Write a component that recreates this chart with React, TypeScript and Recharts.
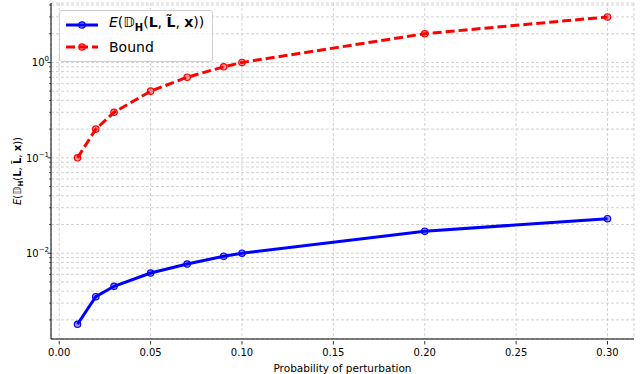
import { LineChart, Line, XAxis, YAxis, CartesianGrid } from 'recharts'

// probability of perturbation (x) and the two series
const probs = [0.01, 0.02, 0.03, 0.05, 0.07, 0.09, 0.1, 0.2, 0.3]
const expected = [0.0018, 0.0035, 0.0045, 0.0062, 0.0077, 0.0093, 0.01, 0.017, 0.023]
const bound = [0.1, 0.2, 0.3, 0.5, 0.7, 0.9, 1.0, 2.0, 3.0]

const xTicks = [0, 0.05, 0.1, 0.15, 0.2, 0.25, 0.3]
const yTicks = [
  0.002, 0.003, 0.004, 0.005, 0.006, 0.007, 0.008, 0.009,
  0.01, 0.02, 0.03, 0.04, 0.05, 0.06, 0.07, 0.08, 0.09,
  0.1, 0.2, 0.3, 0.4, 0.5, 0.6, 0.7, 0.8, 0.9,
  1, 2, 3, 4,
]

const data = probs.map((p, i) => ({ p, expected: expected[i], bound: bound[i] }))

const FONT = 'DejaVu Sans, sans-serif'
const Y_AXIS_W = 51 // left axis sits at this x

function YTick({ y, payload }: any) {
  const v = payload.value
  const exp = Math.log10(v)
  const major = Math.abs(exp - Math.round(exp)) < 1e-6
  const ax = Y_AXIS_W
  return (
    <g>
      <line x1={ax} x2={ax - (major ? 3.5 : 2)} y1={y} y2={y} stroke="#000" strokeWidth={major ? 0.8 : 0.6} />
      {major && (
        <text x={ax - 2} y={y + 4} textAnchor="end" fontSize={10} fontFamily={FONT} fill="#000">
          <tspan>10</tspan>
          <tspan dy={-5} fontSize={7}>{Math.round(exp) < 0 ? '\u2212' + Math.abs(Math.round(exp)) : '0'}</tspan>
        </text>
      )}
    </g>
  )
}

function XTick({ x, y, payload }: any) {
  return (
    <g>
      <line x1={x} x2={x} y1={y} y2={y + 3.5} stroke="#000" strokeWidth={0.8} />
      <text x={x} y={y + 15} textAnchor="middle" fontSize={10} fontFamily={FONT} fill="#000">
        {payload.value.toFixed(2)}
      </text>
    </g>
  )
}

function LegendBox() {
  const row = (color: string, dash: string | undefined, label: any) => (
    <div style={{ display: 'flex', alignItems: 'center', height: 22 }}>
      <svg width={34} height={10} style={{ marginRight: 10 }}>
        <line x1={1} x2={33} y1={5} y2={5} stroke={color} strokeWidth={3} strokeDasharray={dash} />
        <circle cx={17} cy={5} r={3.2} fill={color} fillOpacity={0.4} stroke={color} strokeWidth={1.2} />
      </svg>
      <span>{label}</span>
    </div>
  )
  return (
    <div
      style={{
        position: 'absolute',
        left: 59,
        top: 10,
        border: '1px solid #d0d0d0',
        borderRadius: 3,
        background: 'rgba(255,255,255,0.8)',
        padding: '3px 8px 3px 5px',
        fontFamily: FONT,
        fontSize: 14,
        color: '#000',
        lineHeight: '16px',
      }}
    >
      {row('#0000ff', undefined, (
        <>
          <i>E</i>(𝔻<sub style={{ fontSize: 10, fontWeight: 'bold' }}>H</sub>(<b>L</b>, <b>L̃</b>, <b>x</b>))
        </>
      ))}
      {row('#ff0000', '9 4', 'Bound')}
    </div>
  )
}

function YLabel() {
  return (
    <svg width={30} height={374} style={{ position: 'absolute', left: 0, top: 0, pointerEvents: 'none' }}>
      <text x={21} y={171} transform="rotate(-90 21 171)" textAnchor="middle" fontSize={10} fontFamily={FONT} fill="#000">
        <tspan fontStyle="italic">E</tspan>
        <tspan>(𝔻</tspan>
        <tspan fontWeight="bold" fontSize={7} dy={2}>H</tspan>
        <tspan dy={-2}>(</tspan>
        <tspan fontWeight="bold">L</tspan>
        <tspan>, </tspan>
        <tspan fontWeight="bold">L̃</tspan>
        <tspan>, </tspan>
        <tspan fontWeight="bold">x</tspan>
        <tspan>))</tspan>
      </text>
    </svg>
  )
}

export default function App() {
  return (
    <div style={{ position: 'absolute', left: 0, top: 0, width: 640, height: 374, background: '#fff' }}>
      <LineChart width={640} height={374} data={data} margin={{ top: 3, right: 6, bottom: 0, left: 0 }}>
        <CartesianGrid stroke="#c8c8c8" strokeDasharray="3 2" strokeWidth={0.8} />
        <XAxis
          dataKey="p"
          type="number"
          domain={[-0.0045, 0.3145]}
          allowDataOverflow
          ticks={xTicks}
          tick={<XTick />}
          tickLine={false}
          tickSize={0}
          height={35}
          axisLine={{ stroke: '#000', strokeWidth: 1 }}
          label={{ value: 'Probability of perturbation', position: 'insideBottom', offset: 2, fontSize: 10.5, fontFamily: FONT, fill: '#000' }}
        />
        <XAxis xAxisId="top" orientation="top" dataKey="p" type="number" domain={[-0.0045, 0.3145]} tick={false} height={0} axisLine={{ stroke: '#000', strokeWidth: 1 }} />
        <YAxis
          scale="log"
          type="number"
          domain={[0.00126, 4.2]}
          allowDataOverflow
          ticks={yTicks}
          interval={0}
          tick={<YTick />}
          tickLine={false}
          tickSize={0}
          tickMargin={0}
          width={Y_AXIS_W}
          axisLine={{ stroke: '#000', strokeWidth: 1 }}
        />
        <YAxis yAxisId="right" orientation="right" scale="log" type="number" domain={[0.00126, 4.2]} tick={false} width={0} axisLine={{ stroke: '#000', strokeWidth: 1 }} />
        <Line
          dataKey="expected"
          stroke="#0000ff"
          strokeWidth={3}
          isAnimationActive={false}
          dot={{ r: 3.2, fill: '#0000ff', fillOpacity: 0.4, stroke: '#0000ff', strokeWidth: 1.2 }}
          activeDot={false}
        />
        <Line
          dataKey="bound"
          stroke="#ff0000"
          strokeWidth={3}
          strokeDasharray="9 4"
          isAnimationActive={false}
          dot={{ r: 3.2, fill: '#ff0000', fillOpacity: 0.4, stroke: '#ff0000', strokeWidth: 1.2, strokeDasharray: '' }}
          activeDot={false}
        />
      </LineChart>
      <YLabel />
      <LegendBox />
    </div>
  )
}
